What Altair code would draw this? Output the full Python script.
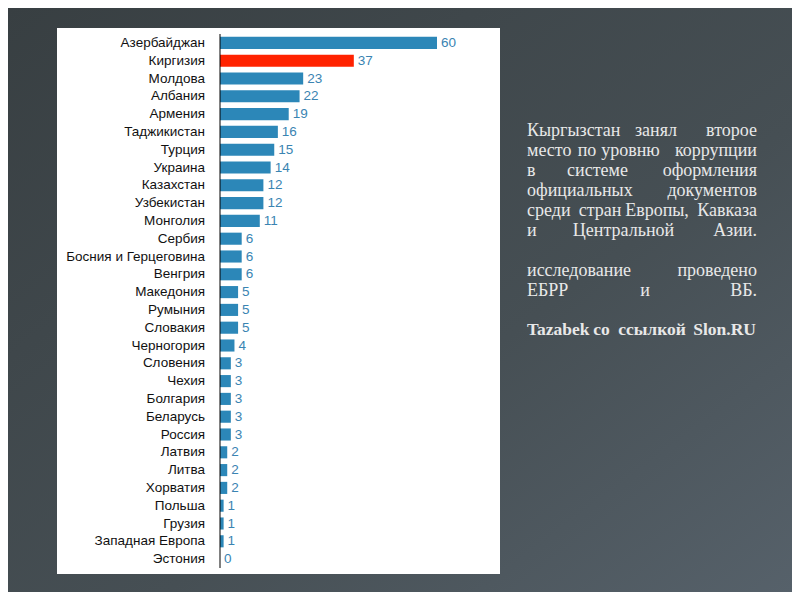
import altair as alt
import pandas as pd

# ---- data ----
countries = ["Азербайджан", "Киргизия", "Молдова", "Албания", "Армения", "Таджикистан",
             "Турция", "Украина", "Казахстан", "Узбекистан", "Монголия", "Сербия",
             "Босния и Герцеговина", "Венгрия", "Македония", "Румыния", "Словакия",
             "Черногория", "Словения", "Чехия", "Болгария", "Беларусь", "Россия",
             "Латвия", "Литва", "Хорватия", "Польша", "Грузия", "Западная Европа", "Эстония"]
values = [60, 37, 23, 22, 19, 16, 15, 14, 12, 12, 11, 6, 6, 6, 5, 5, 5, 4, 3, 3, 3, 3, 3,
          2, 2, 2, 1, 1, 1, 0]
highlight = "Киргизия"

# annotation text (words of each justified line)
note_lines = [
    ["Кыргызстан", "занял", "второе"],
    ["место", "по", "уровню", "коррупции"],
    ["в", "системе", "оформления"],
    ["официальных", "документов"],
    ["среди", "стран", "Европы,", "Кавказа"],
    ["и", "Центральной", "Азии."],
    ["исследование", "проведено"],
    ["ЕБРР", "и", "ВБ."],
    ["Tazabek", "со", "ссылкой", "Slon.RU"],
]

# ---- layout (screen pixels) ----
OX, OY = 220, 34          # screen position of plot origin
line_y = [130.5, 151, 171, 191, 211, 231, 271, 291, 330]
mid_centers = [
    [656],
    [587, 630.5],
    [597.5],
    [],
    [600, 657],
    [623.5],
    [],
    [645],
    [601.5, 652],
]
LEFT, RIGHT = 527, 757

rows = []
for i, words in enumerate(note_lines):
    bold = i == len(note_lines) - 1
    right = 756 if bold else RIGHT
    for j, w in enumerate(words):
        if j == 0:
            anchor, x = "left", LEFT
        elif j == len(words) - 1:
            anchor, x = "right", right
        else:
            anchor, x = "center", mid_centers[i][j - 1]
        rows.append({"w": w, "px": x - OX, "py": line_y[i] - OY, "anchor": anchor, "bold": bold})
notes = pd.DataFrame(rows)

df = pd.DataFrame({"country": countries, "value": values})

W, H = 217, 534
PAD = {"left": 212, "top": 26, "right": 784 - 212 - W, "bottom": 584 - 26 - H}

one = pd.DataFrame({"a": [0]})
bg = alt.Chart(one).mark_rect(
    color=alt.LinearGradient(
        gradient="linear",
        stops=[alt.GradientStop(color="#383f42", offset=0),
               alt.GradientStop(color="#464f54", offset=0.6),
               alt.GradientStop(color="#56616a", offset=1)],
        x1=0, y1=0, x2=1, y2=1)
).encode(x=alt.value(-212), x2=alt.value(572), y=alt.value(-26), y2=alt.value(558))

panel = alt.Chart(one).mark_rect(color="white").encode(
    x=alt.value(57 - OX), x2=alt.value(500 - OX), y=alt.value(28 - OY), y2=alt.value(574 - OY))

yscale = alt.Scale(paddingInner=0.32, paddingOuter=0.16)
yenc = alt.Y("country:N", sort=countries, scale=yscale, axis=None)
xenc = alt.X("value:Q", scale=alt.Scale(domain=[0, 60], nice=False), axis=None)

bars = alt.Chart(df).mark_bar().encode(
    y=yenc, x=xenc,
    color=alt.condition(alt.datum.country == highlight, alt.value("#ff2200"), alt.value("#2c87b8")),
)
vals = alt.Chart(df).mark_text(align="left", baseline="middle", dx=4, fontSize=13.5,
                               font="Liberation Sans", color="#3a84b2").encode(
    y=yenc, x=xenc, text="value:Q")
cats = alt.Chart(df).mark_text(align="right", baseline="middle", fontSize=13.5,
                               font="Liberation Sans", color="#111111").encode(
    y=yenc, x=alt.value(-15), text="country:N")
domain = alt.Chart(one).mark_rule(color="black", strokeWidth=1).encode(
    x=alt.value(0), y=alt.value(0), y2=alt.value(H))

def note_layer(anchor, bold):
    d = notes[(notes.anchor == anchor) & (notes.bold == bold)]
    return alt.Chart(d).mark_text(
        align=anchor, baseline="middle", font="Liberation Serif",
        fontSize=17.5 if bold else 18,
        fontWeight="bold" if bold else "normal", color="#e8e8e8"
    ).encode(x=alt.X("px:Q", scale=None, axis=None),
             y=alt.Y("py:Q", scale=None, axis=None), text="w:N")

text_layers = [note_layer(a, b) for a in ["left", "center", "right"] for b in [False, True]]

chart = alt.layer(bg, panel, *text_layers, alt.layer(bars, vals, cats), domain).resolve_scale(
    x="independent", y="independent"
).properties(
    width=W, height=H, padding=PAD, autosize=alt.AutoSizeParams(type="none"),
    background="#3d4448"
).configure_view(stroke=None)

chart.save("out.html", embed_options={"renderer": "svg", "actions": False})
